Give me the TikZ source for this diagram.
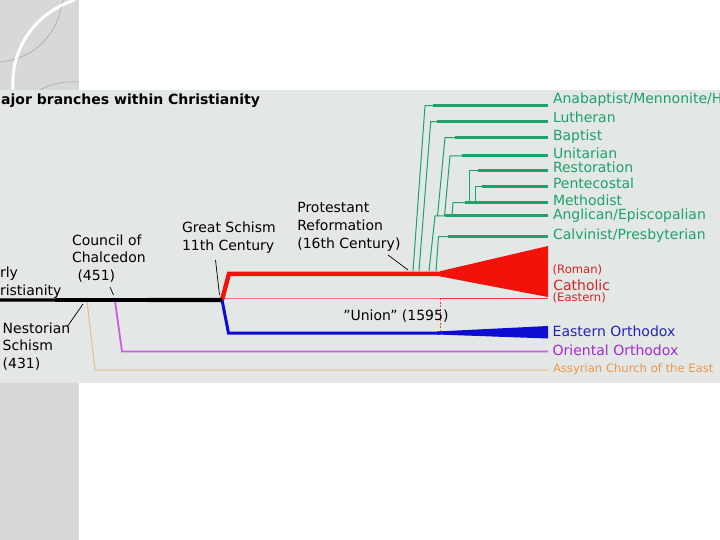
\documentclass[tikz,border=0pt]{standalone}
\usepackage{fontspec}
\setmainfont{DejaVu Sans}
\definecolor{panel}{RGB}{227,231,229}
\definecolor{stripe}{RGB}{216,216,216}
\definecolor{grn}{RGB}{28,162,106}
\definecolor{cath}{RGB}{242,18,10}
\definecolor{cathtxt}{RGB}{212,36,36}
\definecolor{orth}{RGB}{12,12,210}
\definecolor{orthtxt}{RGB}{36,36,178}
\definecolor{orient}{RGB}{205,92,225}
\definecolor{orienttxt}{RGB}{162,44,204}
\definecolor{assy}{RGB}{230,188,135}
\definecolor{assytxt}{RGB}{238,150,72}
\tikzset{
  lbl/.style={inner sep=0pt, outer sep=0pt, anchor=base west, font=\fontsize{14}{16}\selectfont},
  sml/.style={inner sep=0pt, outer sep=0pt, anchor=base west, font=\fontsize{11.6}{13}\selectfont},
  ptr/.style={black, line width=0.7pt},
  gthin/.style={grn, line width=1pt, line join=miter},
  gthick/.style={grn, line width=3pt},
}
\begin{document}
\begin{tikzpicture}[x=1pt,y=-1pt]
\useasboundingbox (0,0) rectangle (720,540);
\clip (0,0) rectangle (720,540);
% slide background
\fill[white] (0,0) rectangle (720,540);
\fill[stripe] (0,0) rectangle (78.5,540);
\draw[gray!70, line width=0.6pt] (63,0) .. controls (58,32) and (38,58) .. (0,62);
\draw[white, line width=3pt] (75,0) .. controls (42,10) and (10,42) .. (13,90);
\draw[gray!70, line width=0.6pt] (40,90) .. controls (52,83) and (66,81) .. (78.5,82);
% panel
\fill[panel] (0,90) rectangle (720,383);
\node[inner sep=0pt, anchor=base west, font=\fontsize{14}{16}\selectfont\bfseries] (title) at (1,104.7) {ajor branches within Christianity};

% key points
\coordinate (start) at (0,300);
\coordinate (split) at (222,300);
\coordinate (nesB) at (87,301);
\coordinate (nesC) at (95,370);
\coordinate (nesE) at (548,370);
\coordinate (oriB) at (115,301);
\coordinate (oriC) at (122,351.5);
\coordinate (oriE) at (548,351.5);
\coordinate (redC) at (229,273.8);
\coordinate (redE) at (443,273.8);
\coordinate (bluC) at (228.5,333);
\coordinate (bluE) at (440,333);
\coordinate (ecL) at (222,298);
\coordinate (ecM) at (440,298);
\coordinate (ecE) at (548,298);

% Assyrian and Oriental branches
\draw[assy, line width=1pt] (nesB) -- (nesC) -- (nesE);
\draw[orient, line width=1.8pt] (oriB) -- (oriC) -- (oriE);
% Eastern Catholic thin line and Union
\draw[cath!55, line width=0.7pt] (ecL) -- (ecM);
\draw[cath!85, line width=0.9pt] (ecM) -- (ecE);
\draw[cath!80, line width=0.7pt, dash pattern=on 2pt off 1.5pt] (ecM) -- (bluE);
% Catholic
\draw[cath, line width=4.4pt, line join=miter] (split) -- (redC) -- (redE);
\fill[cath] (440,271.2) -- (548,246) -- (548,297) -- (440,276.4) -- cycle;
% Orthodox
\draw[orth, line width=3pt, line join=miter] (split) -- (bluC) -- (bluE);
\fill[orth] (437,331.5) -- (548,326) -- (548,338.5) -- (437,334.5) -- cycle;
% early trunk
\fill[black] (0,298.4) -- (222,297.8) -- (222,302.2) -- (0,301.6) -- cycle;

% Protestant branches
\coordinate (anaB) at (413,271); \coordinate (anaT) at (425,105.7); \coordinate (anaK) at (433,105.7); \coordinate (anaE) at (548,105.7);
\coordinate (lutB) at (419,271); \coordinate (lutT) at (430.7,121.7); \coordinate (lutK) at (437,121.7); \coordinate (lutE) at (548,121.7);
\coordinate (bapB) at (437.5,216); \coordinate (bapT) at (445,137.7); \coordinate (bapK) at (455,137.7); \coordinate (bapE) at (548,137.7);
\coordinate (uniB) at (444.5,216); \coordinate (uniT) at (450,156); \coordinate (uniK) at (462,156); \coordinate (uniE) at (548,156);
\coordinate (resB) at (469,202.7); \coordinate (resT) at (469,170.7); \coordinate (resK) at (478,170.7); \coordinate (resE) at (548,170.7);
\coordinate (penB) at (475,202.7); \coordinate (penT) at (475,187); \coordinate (penK) at (482,187); \coordinate (penE) at (548,187);
\coordinate (metB) at (452,216); \coordinate (metT) at (453,202.7); \coordinate (metK) at (465,202.7); \coordinate (metE) at (548,202.7);
\coordinate (angB) at (429,271); \coordinate (angT) at (435,216); \coordinate (angK) at (445,216); \coordinate (angE) at (548,216);
\coordinate (calB) at (436,271); \coordinate (calT) at (438.5,236.5); \coordinate (calK) at (448,236.5); \coordinate (calE) at (548,236.5);
\foreach \d in {ana,lut,bap,uni,res,pen,met,ang,cal}{
  \draw[gthin] (\d B) -- (\d T) -- (\d E);
  \draw[gthick] (\d K) -- (\d E);
}
\node[lbl, text=grn] (ana) at (553,104) {Anabaptist/Mennonite/H};
\node[lbl, text=grn] (lut) at (553,122.3) {Lutheran};
\node[lbl, text=grn] (bap) at (553,140.7) {Baptist};
\node[lbl, text=grn] (uni) at (553,159) {Unitarian};
\node[lbl, text=grn] (res) at (553,172.7) {Restoration};
\node[lbl, text=grn] (pen) at (553,189) {Pentecostal};
\node[lbl, text=grn] (met) at (553,205.7) {Methodist};
\node[lbl, text=grn] (ang) at (553,220) {Anglican/Episcopalian};
\node[lbl, text=grn] (cal) at (553,240) {Calvinist/Presbyterian};

% right labels
\node[sml, text=cathtxt] (roman) at (552.7,273.5) {(Roman)};
\node[lbl, text=cathtxt] (catholic) at (553.3,290) {Catholic};
\node[sml, text=cathtxt] (eastern) at (552.7,301) {(Eastern)};
\node[lbl, text=orthtxt] (eo) at (552.7,336) {Eastern Orthodox};
\node[lbl, text=orienttxt] (oo) at (552.7,355) {Oriental Orthodox};
\node[sml, text=assytxt] (ace) at (553,372) {Assyrian Church of the East};

% left labels
\node[lbl] (early1) at (0,277.5) {rly};
\node[lbl] (early2) at (0,295) {ristianity};
\node[lbl] (nes1) at (2.7,333.3) {Nestorian};
\node[lbl] (nes2) at (2.7,350.8) {Schism};
\node[lbl] (nes3) at (2.7,368) {(431)};
\node[lbl] (cou1) at (72,245) {Council of};
\node[lbl] (cou2) at (72,262.5) {Chalcedon};
\node[lbl] (cou3) at (77.5,280) {(451)};
\node[lbl] (gs1) at (182,233) {Great Schism};
\node[lbl] (gs2) at (182,251) {11th Century};
\node[lbl] (pr1) at (297.3,212.7) {Protestant};
\node[lbl] (pr2) at (297.3,230.5) {Reformation};
\node[lbl] (pr3) at (297.3,248.5) {(16th Century)};
\node[lbl] (union) at (343.3,320) {\char34 Union\char34\ (1595)};

% pointers
\coordinate (pN1) at (67,327); \coordinate (pN2) at (83,304);
\coordinate (pC1) at (110,287); \coordinate (pC2) at (113.5,295);
\coordinate (pG1) at (215.5,260); \coordinate (pG2) at (219.5,295);
\coordinate (pP1) at (388,255); \coordinate (pP2) at (408,270);
\draw[ptr] (pN1) -- (pN2);
\draw[ptr] (pC1) -- (pC2);
\draw[ptr] (pG1) -- (pG2);
\draw[ptr] (pP1) -- (pP2);
\end{tikzpicture}
\end{document}
